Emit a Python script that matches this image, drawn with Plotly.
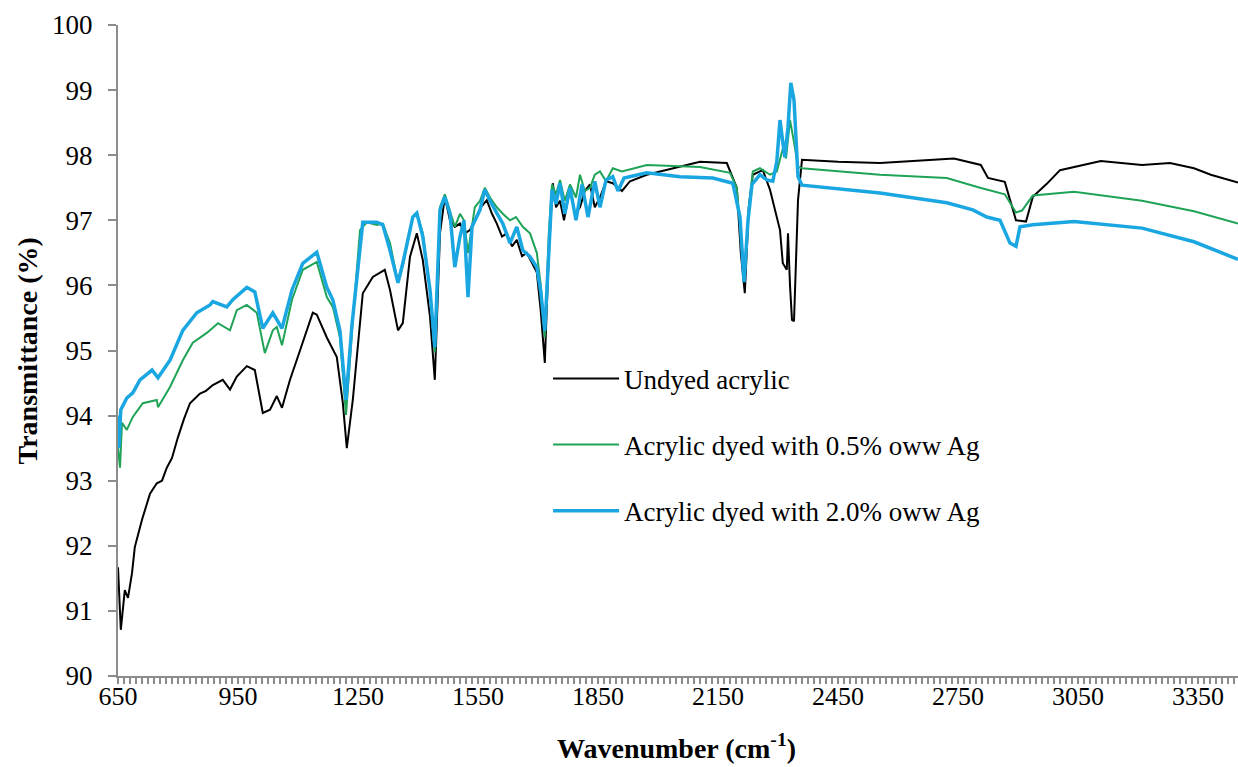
import plotly.graph_objects as go

# Undyed acrylic
wn_undyed = [650, 657, 667, 675, 685, 692, 710, 730, 747, 760, 772, 785, 800, 815, 830, 855, 870, 887, 912, 930,
             947, 972, 992, 1012, 1030, 1047, 1060, 1080, 1105, 1137, 1147, 1172, 1197, 1212, 1222, 1237, 1262,
             1287, 1317, 1330, 1350, 1362, 1380, 1397, 1412, 1430, 1442, 1455, 1467, 1480, 1492, 1505, 1517,
             1530, 1542, 1557, 1572, 1585, 1597, 1610, 1622, 1635, 1647, 1660, 1672, 1685, 1697, 1707, 1717,
             1727, 1737, 1745, 1755, 1765, 1780, 1792, 1805, 1817, 1830, 1842, 1855, 1870, 1887, 1910, 1930,
             1972, 2055, 2105, 2172, 2197, 2207, 2217, 2227, 2237, 2262, 2280, 2305, 2312, 2322, 2325, 2330,
             2335, 2340, 2350, 2360, 2450, 2555, 2650, 2740, 2807, 2825, 2867, 2895, 2920, 2937, 2972, 3005,
             3107, 3210, 3280, 3340, 3382, 3432, 3450]
t_undyed = [91.67, 90.71, 91.32, 91.2, 91.58, 91.98, 92.4, 92.8, 92.96, 93.0, 93.2, 93.35, 93.67, 93.95, 94.19,
            94.34, 94.38, 94.47, 94.55, 94.4, 94.6, 94.76, 94.7, 94.04, 94.09, 94.3, 94.12, 94.55, 95.0, 95.58,
            95.55, 95.2, 94.9, 94.2, 93.5, 94.24, 95.88, 96.13, 96.24, 95.93, 95.31, 95.42, 96.44, 96.8, 96.39,
            95.52, 94.55, 96.8, 97.36, 97.0, 96.9, 96.95, 96.8, 96.85, 97.0, 97.2, 97.31, 97.1, 96.95, 96.75,
            96.8, 96.6, 96.7, 96.45, 96.5, 96.35, 96.2, 95.6, 94.81, 96.5, 97.57, 97.2, 97.3, 97.0, 97.5, 97.1,
            97.2, 97.45, 97.55, 97.2, 97.35, 97.6, 97.57, 97.45, 97.6, 97.7, 97.82, 97.9, 97.88, 97.5, 96.5,
            95.88, 97.2, 97.7, 97.77, 97.47, 96.85, 96.34, 96.24, 96.8, 96.0, 95.47, 95.45, 97.31, 97.93, 97.9,
            97.88, 97.92, 97.95, 97.85, 97.65, 97.59, 97.0, 96.98, 97.36, 97.56, 97.77, 97.91, 97.85, 97.88,
            97.8, 97.7, 97.62, 97.58]

# Acrylic dyed with 0.5% oww Ag
wn_ag05 = [650, 655, 660, 672, 687, 712, 747, 750, 780, 812, 837, 872, 900, 930, 947, 972, 997, 1017, 1037,
           1047, 1060, 1085, 1112, 1147, 1172, 1187, 1205, 1220, 1235, 1255, 1272, 1297, 1312, 1330, 1350,
           1362, 1387, 1397, 1412, 1430, 1442, 1455, 1467, 1480, 1492, 1505, 1515, 1525, 1542, 1555, 1567,
           1580, 1597, 1612, 1630, 1645, 1662, 1680, 1697, 1707, 1717, 1727, 1735, 1745, 1755, 1767, 1780,
           1795, 1805, 1817, 1830, 1842, 1855, 1870, 1887, 1910, 1972, 2105, 2180, 2197, 2207, 2217, 2227,
           2237, 2255, 2280, 2297, 2312, 2320, 2330, 2340, 2350, 2360, 2555, 2722, 2805, 2867, 2895, 2910,
           2937, 3040, 3210, 3340, 3450]
t_ag05 = [93.5, 93.2, 93.89, 93.78, 93.98, 94.19, 94.24, 94.13, 94.44, 94.85, 95.12, 95.27, 95.42, 95.31, 95.62,
          95.7, 95.58, 94.96, 95.31, 95.36, 95.08, 95.78, 96.24, 96.36, 95.82, 95.67, 95.2, 94.01, 95.3, 96.85,
          96.97, 96.93, 96.95, 96.65, 96.04, 96.3, 97.05, 97.12, 96.8, 95.95, 94.97, 97.2, 97.4, 97.15, 96.9,
          97.1, 97.0, 96.5, 97.2, 97.3, 97.5, 97.35, 97.2, 97.1, 97.0, 97.05, 96.9, 96.8, 96.5, 96.0, 95.2,
          96.8, 97.55, 97.4, 97.62, 97.3, 97.55, 97.35, 97.7, 97.45, 97.5, 97.7, 97.75, 97.6, 97.8, 97.75,
          97.85, 97.82, 97.73, 97.5, 96.8, 96.1, 97.2, 97.75, 97.8, 97.7, 97.75, 98.1, 97.95, 98.54, 98.2,
          97.82, 97.8, 97.7, 97.65, 97.5, 97.4, 97.12, 97.15, 97.38, 97.44, 97.3, 97.14, 96.95]

# Acrylic dyed with 2.0% oww Ag
wn_ag20 = [650, 652, 657, 672, 687, 705, 735, 750, 780, 812, 847, 880, 887, 922, 937, 972, 992, 1012, 1037,
           1060, 1085, 1112, 1147, 1172, 1187, 1205, 1220, 1235, 1262, 1297, 1312, 1330, 1350, 1362, 1387,
           1397, 1412, 1430, 1442, 1455, 1467, 1480, 1492, 1505, 1515, 1525, 1535, 1555, 1567, 1580, 1597,
           1612, 1630, 1647, 1662, 1680, 1697, 1707, 1717, 1727, 1735, 1745, 1755, 1767, 1780, 1795, 1810,
           1825, 1842, 1855, 1870, 1887, 1900, 1915, 1972, 2055, 2137, 2187, 2205, 2215, 2225, 2235, 2255,
           2272, 2287, 2297, 2305, 2312, 2317, 2325, 2332, 2340, 2345, 2350, 2360, 2555, 2722, 2787, 2822,
           2855, 2880, 2895, 2905, 2937, 3040, 3210, 3340, 3450]
t_ag20 = [94.0, 93.5, 94.09, 94.27, 94.35, 94.55, 94.7, 94.58, 94.85, 95.31, 95.58, 95.7, 95.75, 95.67, 95.78,
          95.97, 95.9, 95.34, 95.58, 95.34, 95.93, 96.34, 96.51, 95.97, 95.78, 95.3, 94.24, 95.4, 96.97, 96.97,
          96.93, 96.54, 96.04, 96.34, 97.05, 97.11, 96.75, 95.93, 95.05, 97.16, 97.36, 97.1, 96.28, 96.75,
          97.0, 95.82, 96.9, 97.16, 97.47, 97.3, 97.11, 96.95, 96.65, 96.9, 96.54, 96.44, 96.28, 95.9, 95.3,
          96.5, 97.47, 97.25, 97.57, 97.1, 97.5, 97.0, 97.55, 97.05, 97.6, 97.2, 97.62, 97.67, 97.45, 97.65,
          97.73, 97.67, 97.65, 97.57, 97.05, 96.05, 97.0, 97.55, 97.7, 97.62, 97.6, 97.9, 98.54, 98.2, 97.97,
          98.43, 99.11, 98.85, 98.13, 97.67, 97.54, 97.42, 97.27, 97.16, 97.05, 97.0, 96.65, 96.6, 96.9,
          96.93, 96.98, 96.88, 96.67, 96.4]

series_names = ["Undyed acrylic", "Acrylic dyed with 0.5% oww Ag", "Acrylic dyed with 2.0% oww Ag"]
series_colors = ["#000000", "#1fa357", "#1aa7e1"]
series_widths = [2, 2, 3.5]

x_ticks = [650, 950, 1250, 1550, 1850, 2150, 2450, 2750, 3050, 3350]
y_ticks = [90, 91, 92, 93, 94, 95, 96, 97, 98, 99, 100]

fig = go.Figure()
for i, (xs, ys) in enumerate([(wn_undyed, t_undyed), (wn_ag05, t_ag05), (wn_ag20, t_ag20)]):
    fig.add_trace(go.Scatter(x=xs, y=ys, mode="lines", name=series_names[i],
                             legendgroup=f"g{i}",
                             line=dict(color=series_colors[i], width=series_widths[i])))

font_family = "Liberation Serif, Times New Roman, serif"
fig.update_layout(
    width=1238, height=767,
    margin=dict(l=118, r=0, t=25, b=91),
    paper_bgcolor="white", plot_bgcolor="white",
    font=dict(family=font_family, size=26, color="#000000"),
    showlegend=True,
    legend=dict(x=0.384, y=0.494, xanchor="left", yanchor="top",
                bgcolor="rgba(0,0,0,0)", tracegroupgap=28,
                font=dict(family=font_family, size=27), itemwidth=66),
    xaxis=dict(range=[650, 3450], tickmode="array", tickvals=x_ticks,
               ticktext=[str(v) for v in x_ticks],
               showline=True, linecolor="#8c8c8c", linewidth=2, showgrid=False, zeroline=False,
               ticks="outside", ticklen=6, tickwidth=2, tickcolor="#8c8c8c",
               ticklabelstandoff=-10,
               tickfont=dict(family=font_family, size=26),
               minor=dict(dtick=15, tick0=650, ticks="outside", ticklen=6, tickwidth=2,
                          tickcolor="#8c8c8c", showgrid=False)),
    yaxis=dict(range=[90, 100], tickmode="array", tickvals=y_ticks,
               showline=True, linecolor="#8c8c8c", linewidth=2, showgrid=False, zeroline=False,
               ticks="outside", ticklen=8, tickwidth=2, tickcolor="#8c8c8c",
               ticklabelstandoff=10,
               tickfont=dict(family=font_family, size=27)),
    annotations=[
        dict(text="<b>Wavenumber (cm<sup>-1</sup>)</b>", xref="paper", yref="paper",
             x=0.499, y=-0.108, xanchor="center", yanchor="middle", showarrow=False,
             font=dict(family=font_family, size=28)),
        dict(text="<b>Transmittance (%)</b>", xref="paper", yref="paper",
             x=-0.0804, y=0.50, xanchor="center", yanchor="middle", showarrow=False,
             textangle=-90, font=dict(family=font_family, size=28)),
    ],
)

fig.write_html("out.html")
